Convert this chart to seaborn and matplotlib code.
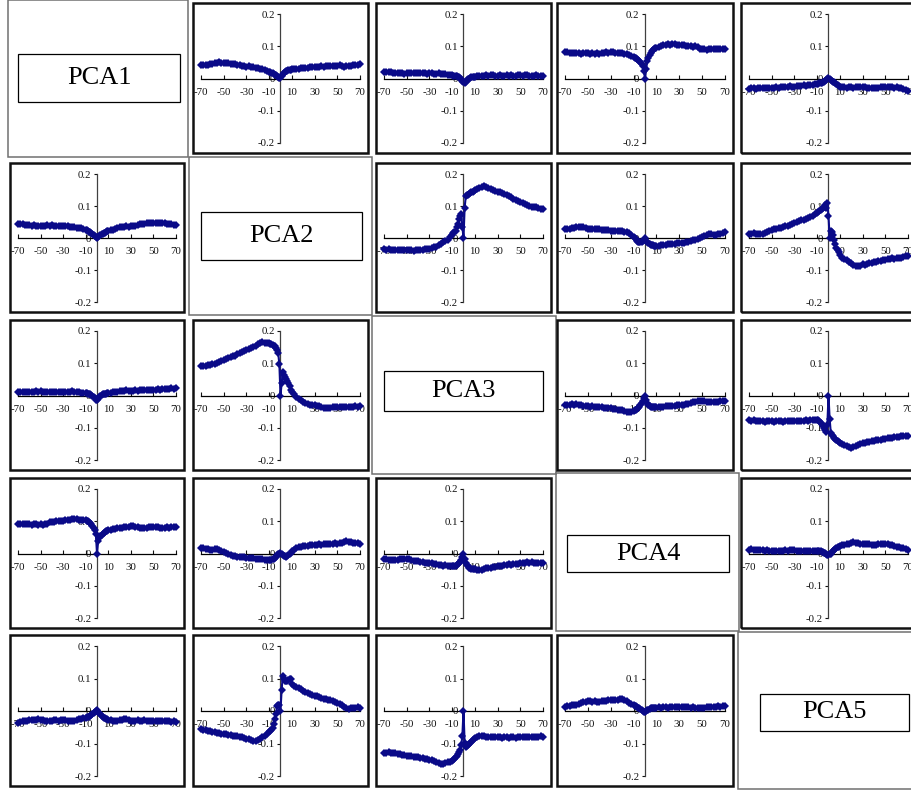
import matplotlib
matplotlib.use("Agg")
import matplotlib.pyplot as plt
from matplotlib.patches import Rectangle
import seaborn as sns

sns.set_style("white")
plt.rcParams['font.family'] = ['Liberation Serif', 'DejaVu Serif']

# ---------------- data ----------------
X_LEFT = list(range(-70, -9, 2))
X_MID = list(range(-9, 10))
X_RIGHT = list(range(10, 71, 2))
X = X_LEFT + X_MID + X_RIGHT

X_TICKS = [-70, -50, -30, -10, 10, 30, 50, 70]
X_TICK_LABELS = ['-70', '-50', '-30', '-10', '10', '30', '50', '70']
Y_TICKS = [-0.2, -0.1, 0.0, 0.1, 0.2]
Y_TICK_LABELS = ['-0.2', '-0.1', '0', '0.1', '0.2']
PCA_LABELS = ['PCA1', 'PCA2', 'PCA3', 'PCA4', 'PCA5']

c01 = [0.042,0.041,0.043,0.042,0.045,0.046,0.048,0.049,0.050,0.048,0.049,0.047,0.048,0.046,0.045,0.045,0.043,0.042,0.040,0.038,0.037,0.038,0.036,0.035,0.034,0.033,0.031,0.029,0.026,0.023,0.020,
       0.019,0.018,0.016,0.014,0.012,0.010,0.008,0.006,0.003,0.001,0.008,0.013,0.018,0.020,0.022,0.024,0.025,0.026,0.027,
       0.028,0.030,0.029,0.031,0.033,0.032,0.034,0.033,0.035,0.036,0.036,0.037,0.036,0.038,0.037,0.038,0.039,0.038,0.040,0.039,0.040,0.041,0.039,0.037,0.038,0.038,0.040,0.041,0.043,0.042,0.045]
c02 = [0.020,0.021,0.019,0.020,0.018,0.017,0.018,0.016,0.017,0.015,0.016,0.017,0.016,0.018,0.017,0.018,0.017,0.016,0.017,0.015,0.018,0.016,0.015,0.014,0.016,0.015,0.013,0.014,0.012,0.011,0.010,
       0.009,0.009,0.008,0.007,0.006,0.004,0.002,-0.002,-0.007,-0.012,-0.013,-0.010,-0.006,-0.003,0.000,0.002,0.004,0.005,0.006,
       0.006,0.007,0.008,0.009,0.008,0.010,0.009,0.011,0.010,0.009,0.009,0.010,0.008,0.009,0.010,0.009,0.010,0.008,0.009,0.010,0.010,0.009,0.011,0.010,0.009,0.008,0.009,0.010,0.009,0.008,0.008]
c03 = [0.082,0.081,0.080,0.079,0.080,0.078,0.079,0.077,0.078,0.079,0.078,0.077,0.078,0.076,0.078,0.077,0.079,0.080,0.081,0.080,0.082,0.081,0.079,0.078,0.079,0.078,0.076,0.075,0.072,0.070,0.067,
       0.065,0.063,0.061,0.058,0.054,0.050,0.045,0.039,0.023,0.000,0.029,0.054,0.065,0.073,0.080,0.085,0.089,0.092,0.094,
       0.095,0.099,0.101,0.103,0.104,0.106,0.105,0.107,0.106,0.105,0.105,0.104,0.103,0.102,0.101,0.100,0.099,0.100,0.098,0.092,0.090,0.091,0.089,0.091,0.092,0.091,0.093,0.092,0.091,0.092,0.090]
c04 = [-0.033,-0.031,-0.030,-0.032,-0.031,-0.029,-0.030,-0.031,-0.028,-0.029,-0.030,-0.028,-0.027,-0.029,-0.026,-0.027,-0.025,-0.026,-0.024,-0.027,-0.025,-0.023,-0.024,-0.022,-0.021,-0.022,-0.021,-0.020,-0.019,-0.018,-0.017,
       -0.016,-0.015,-0.014,-0.013,-0.012,-0.010,-0.007,-0.004,-0.001,0.002,-0.002,-0.005,-0.008,-0.010,-0.012,-0.015,-0.018,-0.020,-0.022,
       -0.025,-0.026,-0.027,-0.028,-0.026,-0.027,-0.028,-0.026,-0.025,-0.026,-0.025,-0.027,-0.028,-0.029,-0.028,-0.030,-0.029,-0.028,-0.027,-0.026,-0.025,-0.026,-0.025,-0.027,-0.028,-0.027,-0.029,-0.031,-0.033,-0.035,-0.038]
c10 = [0.045,0.044,0.043,0.041,0.042,0.040,0.039,0.041,0.038,0.039,0.038,0.037,0.039,0.040,0.039,0.040,0.038,0.039,0.037,0.038,0.038,0.037,0.036,0.035,0.034,0.033,0.032,0.031,0.030,0.028,0.026,
       0.024,0.022,0.020,0.018,0.015,0.012,0.009,0.005,0.002,0.000,0.003,0.006,0.009,0.011,0.013,0.015,0.017,0.019,0.021,
       0.023,0.025,0.026,0.028,0.030,0.033,0.034,0.035,0.036,0.035,0.036,0.037,0.039,0.041,0.043,0.045,0.044,0.046,0.047,0.046,0.048,0.047,0.048,0.047,0.048,0.046,0.045,0.044,0.043,0.042,0.040]
c12 = [-0.034,-0.036,-0.035,-0.037,-0.036,-0.038,-0.037,-0.036,-0.038,-0.037,-0.037,-0.039,-0.038,-0.040,-0.039,-0.039,-0.038,-0.036,-0.035,-0.035,-0.034,-0.032,-0.029,-0.027,-0.023,-0.019,-0.014,-0.010,-0.005,0.002,0.010,
       0.015,0.019,0.023,0.033,0.045,0.060,0.068,0.076,0.035,0.000,0.095,0.130,0.133,0.135,0.136,0.140,0.143,0.145,0.148,
       0.150,0.153,0.155,0.158,0.162,0.160,0.157,0.154,0.151,0.148,0.145,0.144,0.141,0.139,0.134,0.130,0.127,0.123,0.119,0.116,0.112,0.110,0.106,0.104,0.100,0.098,0.096,0.097,0.094,0.092,0.090]
c13 = [0.028,0.027,0.029,0.030,0.032,0.033,0.034,0.035,0.034,0.031,0.028,0.027,0.029,0.027,0.028,0.028,0.026,0.025,0.024,0.024,0.023,0.022,0.023,0.021,0.022,0.021,0.020,0.018,0.015,0.010,0.004,
       0.001,-0.004,-0.008,-0.011,-0.013,-0.013,-0.012,-0.010,-0.005,0.000,-0.008,-0.013,-0.016,-0.019,-0.021,-0.022,-0.023,-0.024,-0.024,
       -0.024,-0.025,-0.023,-0.022,-0.021,-0.019,-0.020,-0.018,-0.019,-0.017,-0.016,-0.017,-0.015,-0.014,-0.011,-0.008,-0.007,-0.005,-0.003,0.000,0.004,0.007,0.010,0.012,0.011,0.010,0.009,0.011,0.013,0.015,0.018]
c14 = [0.014,0.013,0.015,0.013,0.012,0.012,0.014,0.016,0.019,0.022,0.025,0.027,0.029,0.031,0.032,0.033,0.036,0.039,0.042,0.045,0.048,0.050,0.052,0.055,0.057,0.059,0.062,0.066,0.070,0.075,0.079,
       0.082,0.085,0.088,0.091,0.095,0.098,0.103,0.095,0.110,0.069,0.000,0.022,0.020,0.010,-0.005,-0.018,-0.030,-0.038,-0.045,
       -0.052,-0.062,-0.066,-0.070,-0.074,-0.079,-0.083,-0.087,-0.089,-0.086,-0.082,-0.083,-0.080,-0.078,-0.077,-0.075,-0.074,-0.072,-0.071,-0.069,-0.068,-0.067,-0.066,-0.064,-0.065,-0.063,-0.062,-0.061,-0.058,-0.056,-0.055]
c20 = [0.012,0.011,0.010,0.011,0.012,0.010,0.011,0.012,0.013,0.011,0.014,0.012,0.010,0.011,0.012,0.010,0.011,0.012,0.010,0.011,0.010,0.012,0.011,0.012,0.013,0.012,0.011,0.010,0.009,0.008,0.007,
       0.007,0.006,0.006,0.005,0.002,-0.001,-0.004,-0.008,-0.013,-0.015,-0.010,-0.004,-0.001,0.002,0.004,0.005,0.006,0.006,0.007,
       0.007,0.008,0.010,0.011,0.012,0.014,0.013,0.015,0.016,0.014,0.014,0.015,0.016,0.015,0.017,0.018,0.017,0.016,0.018,0.017,0.017,0.018,0.019,0.018,0.019,0.020,0.019,0.021,0.022,0.021,0.022]
c21 = [0.090,0.091,0.093,0.094,0.095,0.097,0.099,0.102,0.105,0.107,0.110,0.113,0.116,0.119,0.121,0.124,0.128,0.131,0.135,0.138,0.141,0.144,0.146,0.149,0.154,0.159,0.162,0.165,0.164,0.163,0.162,
       0.161,0.159,0.157,0.155,0.152,0.147,0.140,0.131,0.097,0.000,0.038,0.074,0.065,0.058,0.052,0.046,0.038,0.028,0.018,
       0.010,0.004,-0.004,-0.010,-0.015,-0.020,-0.023,-0.026,-0.028,-0.030,-0.031,-0.033,-0.034,-0.036,-0.038,-0.039,-0.040,-0.038,-0.037,-0.036,-0.036,-0.037,-0.035,-0.036,-0.037,-0.036,-0.035,-0.036,-0.034,-0.035,-0.034]
c23 = [-0.030,-0.029,-0.028,-0.027,-0.028,-0.027,-0.029,-0.031,-0.033,-0.034,-0.034,-0.035,-0.034,-0.036,-0.035,-0.037,-0.036,-0.038,-0.039,-0.038,-0.040,-0.041,-0.043,-0.044,-0.045,-0.046,-0.048,-0.050,-0.052,-0.050,-0.047,
       -0.046,-0.045,-0.043,-0.040,-0.036,-0.030,-0.022,-0.016,-0.009,0.000,-0.014,-0.022,-0.030,-0.034,-0.036,-0.037,-0.037,-0.036,-0.037,
       -0.037,-0.036,-0.035,-0.036,-0.034,-0.033,-0.034,-0.032,-0.033,-0.031,-0.030,-0.031,-0.029,-0.027,-0.025,-0.022,-0.021,-0.019,-0.018,-0.017,-0.016,-0.017,-0.019,-0.021,-0.020,-0.021,-0.020,-0.019,-0.018,-0.017,-0.016]
c24 = [-0.076,-0.078,-0.077,-0.079,-0.080,-0.078,-0.079,-0.081,-0.080,-0.079,-0.080,-0.081,-0.080,-0.079,-0.080,-0.081,-0.080,-0.079,-0.080,-0.079,-0.078,-0.079,-0.080,-0.078,-0.079,-0.077,-0.078,-0.076,-0.077,-0.076,-0.075,
       -0.077,-0.080,-0.084,-0.089,-0.094,-0.100,-0.106,-0.112,-0.090,0.000,-0.072,-0.115,-0.122,-0.127,-0.131,-0.134,-0.137,-0.140,-0.143,
       -0.146,-0.150,-0.154,-0.158,-0.161,-0.164,-0.161,-0.157,-0.154,-0.151,-0.148,-0.147,-0.145,-0.143,-0.142,-0.140,-0.139,-0.138,-0.137,-0.135,-0.134,-0.133,-0.132,-0.131,-0.130,-0.129,-0.128,-0.126,-0.125,-0.126,-0.126]
c30 = [0.093,0.091,0.092,0.090,0.091,0.090,0.089,0.091,0.090,0.089,0.090,0.088,0.090,0.093,0.099,0.097,0.099,0.100,0.101,0.102,0.100,0.103,0.104,0.105,0.106,0.107,0.106,0.105,0.104,0.104,0.103,
       0.102,0.100,0.097,0.094,0.090,0.085,0.080,0.072,0.059,0.000,0.038,0.048,0.053,0.058,0.062,0.065,0.067,0.069,0.071,
       0.072,0.074,0.076,0.077,0.078,0.080,0.079,0.081,0.082,0.083,0.085,0.084,0.082,0.081,0.080,0.080,0.079,0.080,0.081,0.082,0.083,0.082,0.081,0.080,0.079,0.080,0.081,0.080,0.082,0.081,0.083]
c31 = [0.018,0.016,0.015,0.013,0.012,0.012,0.013,0.014,0.012,0.008,0.004,0.001,-0.002,-0.005,-0.007,-0.008,-0.010,-0.011,-0.012,-0.012,-0.013,-0.014,-0.013,-0.015,-0.016,-0.016,-0.017,-0.018,-0.019,-0.020,-0.020,
       -0.020,-0.019,-0.018,-0.016,-0.013,-0.010,-0.006,-0.003,0.000,0.002,-0.002,-0.006,-0.008,-0.009,-0.010,-0.008,-0.005,-0.001,0.003,
       0.007,0.012,0.016,0.019,0.021,0.023,0.022,0.024,0.025,0.026,0.025,0.026,0.028,0.027,0.029,0.030,0.029,0.031,0.030,0.032,0.031,0.033,0.034,0.037,0.038,0.036,0.035,0.034,0.033,0.032,0.031]
c32 = [-0.016,-0.018,-0.019,-0.020,-0.019,-0.020,-0.019,-0.017,-0.016,-0.017,-0.016,-0.018,-0.020,-0.022,-0.023,-0.024,-0.025,-0.027,-0.028,-0.028,-0.029,-0.031,-0.032,-0.034,-0.035,-0.037,-0.038,-0.037,-0.039,-0.040,-0.039,
       -0.039,-0.040,-0.039,-0.037,-0.034,-0.030,-0.025,-0.020,-0.012,0.000,-0.018,-0.029,-0.036,-0.040,-0.044,-0.046,-0.047,-0.048,-0.049,
       -0.049,-0.050,-0.051,-0.050,-0.048,-0.046,-0.045,-0.044,-0.043,-0.041,-0.039,-0.040,-0.038,-0.037,-0.036,-0.034,-0.035,-0.033,-0.034,-0.032,-0.031,-0.030,-0.028,-0.027,-0.028,-0.027,-0.028,-0.029,-0.030,-0.029,-0.031]
c34 = [0.012,0.013,0.011,0.012,0.010,0.010,0.011,0.009,0.010,0.008,0.008,0.009,0.008,0.007,0.009,0.008,0.010,0.009,0.011,0.010,0.010,0.009,0.008,0.009,0.008,0.008,0.007,0.009,0.008,0.008,0.008,
       0.008,0.007,0.007,0.006,0.005,0.003,0.001,-0.002,-0.004,-0.005,-0.003,0.000,0.004,0.008,0.012,0.014,0.017,0.019,0.021,
       0.023,0.025,0.027,0.029,0.031,0.033,0.035,0.034,0.032,0.031,0.031,0.030,0.029,0.028,0.027,0.026,0.027,0.028,0.029,0.030,0.029,0.028,0.027,0.025,0.023,0.021,0.020,0.018,0.016,0.014,0.012]
c40 = [-0.037,-0.034,-0.032,-0.031,-0.030,-0.029,-0.028,-0.029,-0.027,-0.026,-0.027,-0.029,-0.030,-0.031,-0.030,-0.031,-0.029,-0.028,-0.030,-0.027,-0.028,-0.029,-0.030,-0.031,-0.030,-0.030,-0.028,-0.026,-0.025,-0.023,-0.020,
       -0.019,-0.018,-0.017,-0.015,-0.013,-0.010,-0.007,-0.004,-0.001,0.002,-0.002,-0.006,-0.010,-0.014,-0.018,-0.020,-0.022,-0.024,-0.026,
       -0.027,-0.028,-0.030,-0.031,-0.030,-0.029,-0.027,-0.025,-0.024,-0.027,-0.030,-0.031,-0.030,-0.029,-0.031,-0.030,-0.029,-0.031,-0.032,-0.030,-0.031,-0.032,-0.030,-0.031,-0.032,-0.031,-0.030,-0.032,-0.033,-0.032,-0.034]
c41 = [-0.056,-0.058,-0.059,-0.061,-0.063,-0.066,-0.065,-0.067,-0.068,-0.070,-0.071,-0.072,-0.073,-0.074,-0.076,-0.077,-0.078,-0.080,-0.081,-0.083,-0.085,-0.087,-0.089,-0.091,-0.092,-0.089,-0.086,-0.080,-0.076,-0.072,-0.066,
       -0.062,-0.057,-0.051,-0.040,-0.026,-0.008,0.015,0.020,0.018,0.000,0.066,0.107,0.097,0.093,0.092,0.093,0.095,0.097,0.099,
       0.082,0.078,0.074,0.071,0.067,0.062,0.059,0.055,0.051,0.049,0.047,0.045,0.043,0.041,0.038,0.036,0.035,0.033,0.031,0.028,0.026,0.023,0.018,0.013,0.009,0.007,0.008,0.010,0.009,0.011,0.010]
c42 = [-0.130,-0.128,-0.127,-0.128,-0.129,-0.130,-0.132,-0.133,-0.135,-0.136,-0.138,-0.139,-0.139,-0.141,-0.142,-0.143,-0.144,-0.146,-0.147,-0.148,-0.150,-0.152,-0.154,-0.157,-0.160,-0.163,-0.162,-0.160,-0.158,-0.156,-0.153,
       -0.150,-0.147,-0.143,-0.138,-0.133,-0.127,-0.119,-0.105,-0.077,0.000,-0.097,-0.112,-0.108,-0.105,-0.102,-0.098,-0.094,-0.090,-0.086,
       -0.082,-0.079,-0.077,-0.076,-0.078,-0.080,-0.081,-0.079,-0.080,-0.081,-0.080,-0.081,-0.082,-0.080,-0.081,-0.082,-0.081,-0.080,-0.082,-0.081,-0.081,-0.080,-0.079,-0.081,-0.080,-0.080,-0.079,-0.081,-0.080,-0.078,-0.079]
c43 = [0.013,0.014,0.016,0.017,0.019,0.020,0.023,0.025,0.027,0.029,0.031,0.030,0.029,0.030,0.028,0.029,0.031,0.032,0.031,0.033,0.034,0.035,0.033,0.035,0.036,0.037,0.034,0.030,0.026,0.022,0.018,
       0.016,0.014,0.012,0.010,0.008,0.005,0.002,-0.001,-0.003,-0.004,-0.001,0.002,0.003,0.005,0.008,0.008,0.009,0.010,0.010,
       0.010,0.011,0.010,0.012,0.011,0.010,0.011,0.012,0.011,0.013,0.013,0.012,0.011,0.013,0.012,0.010,0.011,0.010,0.009,0.008,0.008,0.010,0.011,0.012,0.013,0.013,0.012,0.014,0.013,0.015,0.016]

SERIES = {
    (0, 1): c01, (0, 2): c02, (0, 3): c03, (0, 4): c04,
    (1, 0): c10, (1, 2): c12, (1, 3): c13, (1, 4): c14,
    (2, 0): c20, (2, 1): c21, (2, 3): c23, (2, 4): c24,
    (3, 0): c30, (3, 1): c31, (3, 2): c32, (3, 4): c34,
    (4, 0): c40, (4, 1): c41, (4, 2): c42, (4, 3): c43,
}
for k, v in SERIES.items():
    assert len(v) == len(X), (k, len(v))

# ---------------- layout (pixels) ----------------
W, H = 912, 791
COLS = [(10, 184), (193, 368), (376, 551), (557, 733), (741, 916)]
ROWS = [(3, 153), (163, 312), (320, 470), (478, 628), (635, 786)]
LABEL_CELLS = [(8, 188, 0, 157), (189, 372, 157, 315), (372, 556, 316, 474),
               (556, 739, 473, 631), (738, 912, 632, 789)]
LABEL_BOXES = [(18, 180, 54, 102), (201, 362, 212, 260), (384, 543, 371, 411),
               (567, 729, 535, 572), (760, 909, 694, 731)]

LINE_COLOR = '#0a0a88'

fig = plt.figure(figsize=(W / 100, H / 100), dpi=100)
fig.patch.set_facecolor('white')


def rect_px(x0, x1, y0, y1, **kw):
    r = Rectangle((x0 / W, 1 - y1 / H), (x1 - x0) / W, (y1 - y0) / H,
                  transform=fig.transFigure, fill=False, **kw)
    fig.add_artist(r)


for r in range(5):
    for c in range(5):
        if r == c:
            x0, x1, y0, y1 = LABEL_CELLS[r]
            rect_px(x0, x1, y0, y1, ec='#707070', lw=1.1)
            bx0, bx1, by0, by1 = LABEL_BOXES[r]
            rect_px(bx0, bx1, by0, by1, ec='black', lw=0.9)
            fig.text((bx0 + bx1) / 2 / W, 1 - (by0 + by1) / 2 / H, PCA_LABELS[r],
                     ha='center', va='center', fontsize=19, color='black')
            continue
        x0, x1 = COLS[c]
        y0, y1 = ROWS[r]
        rect_px(x0, x1, y0, y1, ec='#111111', lw=1.8)
        ax = fig.add_axes([(x0 + 8) / W, 1 - (y1 - 10) / H,
                           (x1 - x0 - 16) / W, (y1 - y0 - 21) / H])
        ax.patch.set_visible(False)
        sns.lineplot(x=X, y=SERIES[(r, c)], ax=ax, color=LINE_COLOR,
                     marker='D', markersize=4.3, markeredgewidth=0,
                     linewidth=1.5, errorbar=None, clip_on=False, zorder=5)
        ax.set_xlim(-70, 70)
        ax.set_ylim(-0.2, 0.2)
        for s in ('top', 'right'):
            ax.spines[s].set_visible(False)
        ax.spines['left'].set_position(('data', 0))
        ax.spines['bottom'].set_position(('data', 0))
        ax.spines['left'].set_color('#404040')
        ax.spines['bottom'].set_color('black')
        ax.spines['left'].set_linewidth(0.9)
        ax.spines['bottom'].set_linewidth(0.9)
        ax.set_xticks(X_TICKS)
        ax.set_xticklabels(X_TICK_LABELS)
        ax.set_yticks(Y_TICKS)
        ax.set_yticklabels(Y_TICK_LABELS)
        ax.tick_params(axis='x', direction='in', length=3, width=0.8,
                       pad=6.5, labelsize=7.8, colors='#111111', bottom=True)
        ax.tick_params(axis='y', direction='out', length=2.5, width=0.8,
                       pad=1.5, labelsize=7.8, colors='#111111', left=True)
        ax.set_xlabel('')
        ax.set_ylabel('')
        ax.grid(False)

fig.savefig('out.png', dpi=100, facecolor='white')
